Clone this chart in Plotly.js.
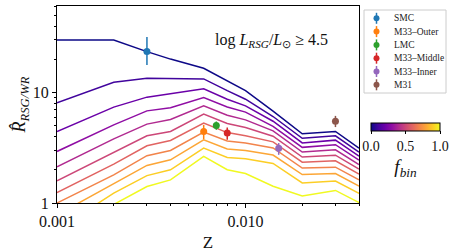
<!DOCTYPE html>
<html>
<head>
<meta charset="utf-8">
<script src="https://cdn.plot.ly/plotly-3.0.1.min.js"></script>
<style>html,body{margin:0;padding:0;background:#fff;}#chart{width:457px;height:252px;}</style>
</head>
<body>
<div id="chart"></div>
<script>
// ---- data ----
const Z = [0.001, 0.002, 0.003, 0.004, 0.006, 0.008, 0.010, 0.014, 0.020, 0.030, 0.040];
const fbin = [0.0, 0.1, 0.2, 0.3, 0.4, 0.5, 0.6, 0.7, 0.8, 0.9, 1.0];
const R_f00 = [29.9, 29.9, 23.5, 20.1, 16.6, 12.7, 10.4, 6.8, 4.23, 4.44, 3.14];
const R_f01 = [8.1, 12.4, 13.5, 13.5, 13.3, 10.4, 8.71, 6.07, 3.85, 4.06, 2.89];
const R_f02 = [4.44, 7.38, 9.09, 9.7, 10.8, 8.7, 7.58, 5.5, 3.50, 3.71, 2.66];
const R_f03 = [2.93, 5.1, 6.83, 7.3, 9.0, 7.4, 6.65, 4.95, 3.19, 3.37, 2.45];
const R_f04 = [2.13, 3.81, 5.18, 5.7, 7.59, 6.23, 5.66, 4.5, 2.89, 3.03, 2.23];
const R_f05 = [1.59, 2.89, 4.06, 4.44, 6.38, 5.24, 4.83, 4.03, 2.61, 2.71, 2.03];
const R_f06 = [1.24, 2.25, 3.30, 3.68, 5.29, 4.34, 4.06, 3.58, 2.34, 2.41, 1.83];
const R_f07 = [1.0, 1.80, 2.68, 2.99, 4.39, 3.64, 3.49, 3.15, 2.07, 2.11, 1.62];
const R_f08 = [0.78, 1.49, 2.19, 2.46, 3.73, 3.09, 2.99, 2.72, 1.81, 1.85, 1.42];
const R_f09 = [0.57, 1.23, 1.77, 2.0, 3.14, 2.58, 2.52, 2.28, 1.52, 1.58, 1.22];
const R_f10 = [0.42, 0.97, 1.41, 1.62, 2.64, 2.0, 1.85, 1.42, 1.16, 1.30, 1.01];
const modelLines = [R_f00, R_f01, R_f02, R_f03, R_f04, R_f05, R_f06, R_f07, R_f08, R_f09, R_f10];

const obsName = ["SMC", "M33\u2013Outer", "LMC", "M33\u2013Middle", "M33\u2013Inner", "M31"];
const obsZ = [0.003, 0.006, 0.007, 0.008, 0.015, 0.030];
const obsR = [23.5, 4.44, 5.03, 4.3, 3.14, 5.5];
const obsErrPlus = [8.3, 0.66, 0.44, 0.53, 0.35, 0.65];
const obsErrMinus = [5.7, 0.65, 0.43, 0.57, 0.41, 0.63];

const xTickVals = [0.001, 0.01];
const xTickText = ["0.001", "0.010"];
const yTickVals = [1, 10];
const yTickText = ["1", "10"];
const cbTickVals = [0, 0.5, 1];
const cbTickText = ["0.0", "0.5", "1.0"];

// ---- styles ----
const plasmaColors = ["#0d0887", "#41049d", "#6a00a8", "#8f0da4", "#b12a90", "#cc4778",
                      "#e16462", "#f2844b", "#fca636", "#fcce25", "#f0f921"];
const plasmaScale = plasmaColors.map((c, i) => [i / (plasmaColors.length - 1), c]);
const obsColors = ["#1f77b4", "#ff7f0e", "#2ca02c", "#d62728", "#9467bd", "#8c564b"];
const FONT = "Liberation Serif, Times New Roman, serif";
const TXT = "#111";

// plot-area pixel geometry
const W = 457, H = 252;
const M = {l: 57, r: 98, t: 6, b: 49};
const PW = W - M.l - M.r, PH = H - M.t - M.b;
const px2x = px => (px - M.l) / PW;
const py2y = py => (H - M.b - py) / PH;

const traces = [];
modelLines.forEach((vals, k) => {
  traces.push({
    type: "scatter", mode: "lines", x: Z, y: vals,
    line: {color: plasmaColors[k], width: 1.5},
    showlegend: false, hoverinfo: "skip", cliponaxis: true
  });
});
// colorbar carrier (invisible markers on model points)
traces.push({
  type: "scatter", mode: "markers",
  x: fbin.map(() => Z[0]), y: modelLines.map(v => v[0]),
  marker: {
    color: fbin, cmin: 0, cmax: 1, colorscale: plasmaScale, opacity: 0, size: 1,
    showscale: true,
    colorbar: {
      orientation: "h", thicknessmode: "pixels", thickness: 8,
      lenmode: "pixels", len: 69,
      x: px2x(405.5), xanchor: "center", y: py2y(123.3), yanchor: "top",
      xpad: 0, ypad: 0, outlinewidth: 1, outlinecolor: "#000",
      ticks: "outside", ticklen: 3, tickcolor: "#000",
      tickmode: "array", tickvals: cbTickVals, ticktext: cbTickText,
      tickfont: {family: FONT, size: 14, color: TXT},
      title: {text: "<i>f</i><sub><i>bin</i></sub>", side: "bottom", font: {family: FONT, size: 19, color: TXT}}
    }
  },
  showlegend: false, hoverinfo: "skip"
});
obsName.forEach((n, i) => {
  traces.push({
    type: "scatter", mode: "markers", name: n,
    x: [obsZ[i]], y: [obsR[i]],
    marker: {color: obsColors[i], size: 7},
    error_y: {type: "data", symmetric: false, array: [obsErrPlus[i]], arrayminus: [obsErrMinus[i]],
              color: obsColors[i], thickness: 1.5, width: 0},
    showlegend: false
  });
});

// manual legend
const shapes = [];
const annotations = [];
shapes.push({type: "rect", xref: "paper", yref: "paper",
  x0: px2x(364), x1: px2x(446), y0: py2y(93), y1: py2y(10),
  line: {color: "#cccccc", width: 1}, fillcolor: "rgba(255,255,255,0.8)", layer: "above"});
obsName.forEach((n, i) => {
  const py = 18.3 + 13.3 * i;
  shapes.push({type: "line", xref: "paper", yref: "paper", xsizemode: "pixel", ysizemode: "pixel",
    xanchor: px2x(376.5), yanchor: py2y(py), x0: 0, x1: 0, y0: -5.5, y1: 5.5,
    line: {color: obsColors[i], width: 1.5}, layer: "above"});
  shapes.push({type: "circle", xref: "paper", yref: "paper", xsizemode: "pixel", ysizemode: "pixel",
    xanchor: px2x(376.5), yanchor: py2y(py), x0: -3, x1: 3, y0: -3, y1: 3,
    line: {width: 0}, fillcolor: obsColors[i], layer: "above"});
  annotations.push({xref: "paper", yref: "paper", x: px2x(392), y: py2y(py),
    xanchor: "left", yanchor: "middle", showarrow: false, text: n,
    font: {family: FONT, size: 9.5, color: "#222"}});
});
annotations.push({xref: "paper", yref: "paper", x: px2x(271), y: py2y(41),
  xanchor: "center", yanchor: "middle", showarrow: false,
  text: "log <i>L</i><sub><i>RSG</i></sub>/<i>L</i><sub>\u2299</sub> \u2265 4.5",
  font: {family: FONT, size: 16, color: TXT}});

const axisCommon = {
  showline: true, mirror: true, linecolor: "#000", linewidth: 1,
  ticks: "outside", ticklen: 4, tickcolor: "#000", showgrid: false, zeroline: false,
  tickfont: {family: FONT, size: 16, color: TXT}
};

const layout = {
  width: W, height: H, margin: M, paper_bgcolor: "#fff", plot_bgcolor: "#fff",
  showlegend: false,
  xaxis: Object.assign({}, axisCommon, {
    type: "log", range: [Math.log10(0.001), Math.log10(0.04)],
    tickmode: "array", tickvals: xTickVals, ticktext: xTickText,
    minor: {tickmode: "array", tickvals: [0.002,0.003,0.004,0.005,0.006,0.007,0.008,0.009,0.02,0.03,0.04],
            ticks: "outside", ticklen: 2, tickcolor: "#000", showgrid: false},
    title: {text: "Z", font: {family: FONT, size: 17, color: TXT}, standoff: 6}
  }),
  yaxis: Object.assign({}, axisCommon, {
    type: "log", range: [0, 1.784],
    tickmode: "array", tickvals: yTickVals, ticktext: yTickText,
    minor: {tickmode: "array", tickvals: [2,3,4,5,6,7,8,9,20,30,40,50,60],
            ticks: "outside", ticklen: 2, tickcolor: "#000", showgrid: false},
    title: {text: "<i>R\u0302</i><sub><i>RSG/WR</i></sub>", font: {family: FONT, size: 18, color: TXT}, standoff: 2}
  }),
  shapes: shapes, annotations: annotations
};

Plotly.newPlot("chart", traces, layout, {staticPlot: true, displayModeBar: false});
</script>
</body>
</html>
